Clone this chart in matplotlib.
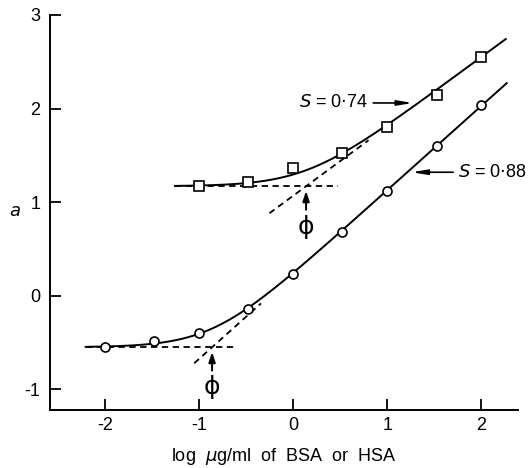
import numpy as np
import matplotlib
matplotlib.use("Agg")
import matplotlib.pyplot as plt

plt.rcParams['font.family'] = ['Liberation Sans', 'DejaVu Sans']
plt.rcParams['axes.unicode_minus'] = False

# Data
hsa_x = [-2.0, -1.48, -1.0, -0.48, 0.0, 0.52, 1.0, 1.53, 2.0]
hsa_y = [-0.55, -0.48, -0.40, -0.14, 0.23, 0.68, 1.12, 1.60, 2.04]
bsa_x = [-1.0, -0.48, 0.0, 0.52, 1.0, 1.53, 2.0]
bsa_y = [1.17, 1.22, 1.37, 1.53, 1.80, 2.15, 2.55]

# fitted-curve parameters: plateau, phi (intersection), slope, curvature
hsa_fit = dict(y0=-0.55, x0=-0.865, s=0.90, k=3.12, xmin=-2.21, xmax=2.27)
bsa_fit = dict(y0=1.17, x0=0.135, s=0.74, k=3.0, xmin=-1.26, xmax=2.26)

xticks = [-2, -1, 0, 1, 2]
xticklabels = ['-2', '-1', '0', '1', '2']
yticks = [-1, 0, 1, 2, 3]
yticklabels = ['-1', '0', '1', '2', '3']


def curve(p, x):
    return p['y0'] + p['s'] * np.logaddexp(0, p['k'] * (x - p['x0'])) / p['k']


fig = plt.figure(figsize=(5.3, 4.68), dpi=100)
ax = fig.add_axes([0.0943, 0.124, 0.883, 0.844])
ax.set_xlim(-2.59, 2.39)
ax.set_ylim(-1.22, 3.0)

lw = 1.4
for p, xs, ys, mk, ms in [(hsa_fit, hsa_x, hsa_y, 'o', 6.5), (bsa_fit, bsa_x, bsa_y, 's', 6.5)]:
    xx = np.linspace(p['xmin'], p['xmax'], 400)
    ax.plot(xx, curve(p, xx), color='black', lw=lw, zorder=2)
    ax.plot(xs, ys, linestyle='none', marker=mk, ms=ms, mfc='white', mec='black', mew=1.2, zorder=3)

# asymptote construction lines
def construction(p, hx_end, dx_lo, dx_hi, arrow_tail, phi_y):
    ax.plot([p['xmin'], p['x0'] + hx_end], [p['y0'], p['y0']], color='black', lw=1.3,
            dashes=(3.5, 2.5), zorder=1)
    xd = np.array([p['x0'] + dx_lo, p['x0'] + dx_hi])
    ax.plot(xd, p['y0'] + p['s'] * (xd - p['x0']), color='black', lw=1.3, dashes=(3.5, 2.5), zorder=1)
    ax.annotate('', xy=(p['x0'], p['y0'] - 0.02), xytext=(p['x0'], arrow_tail),
                arrowprops=dict(arrowstyle='-|>,head_length=0.6,head_width=0.2', color='black', lw=1.4))
    ax.text(p['x0'], phi_y, '\u03d5', ha='center', va='center', fontsize=18, family=['DejaVu Sans'])

construction(hsa_fit, 0.255, -0.19, 0.52, -0.83, -0.97)
construction(bsa_fit, 0.345, -0.39, 0.665, 0.89, 0.73)

# slope labels
ax.annotate('', xy=(1.30, 2.06), xytext=(0.82, 2.06),
            arrowprops=dict(arrowstyle='-|>,head_length=0.9,head_width=0.15', color='black', lw=1.2))
ax.text(0.80, 2.06, r'$\mathit{S}$ = 0$\cdot$74', ha='right', va='center', fontsize=13)
ax.annotate('', xy=(1.23, 1.32), xytext=(1.73, 1.32),
            arrowprops=dict(arrowstyle='-|>,head_length=0.9,head_width=0.15', color='black', lw=1.2))
ax.text(1.75, 1.32, r'$\mathit{S}$ = 0$\cdot$88', ha='left', va='center', fontsize=13, clip_on=False)

# axes styling
for side in ['top', 'right']:
    ax.spines[side].set_visible(False)
ax.spines['left'].set_bounds(-1.22, 3.0)
for side in ['left', 'bottom']:
    ax.spines[side].set_linewidth(1.4)
ax.set_xticks(xticks)
ax.set_xticklabels(xticklabels)
ax.set_yticks(yticks)
ax.set_yticklabels(yticklabels)
ax.tick_params(direction='in', length=8, width=1.3, labelsize=13, pad=7)
ax.tick_params(axis='x', pad=5)

ax.set_xlabel(r'log  $\mu$g/ml  of  BSA  or  HSA', fontsize=13, labelpad=9)
fig.text(15 / 530, 1 - 212 / 468, r'$a$', ha='center', va='center', fontsize=13)

fig.savefig('out.png', dpi=100)
